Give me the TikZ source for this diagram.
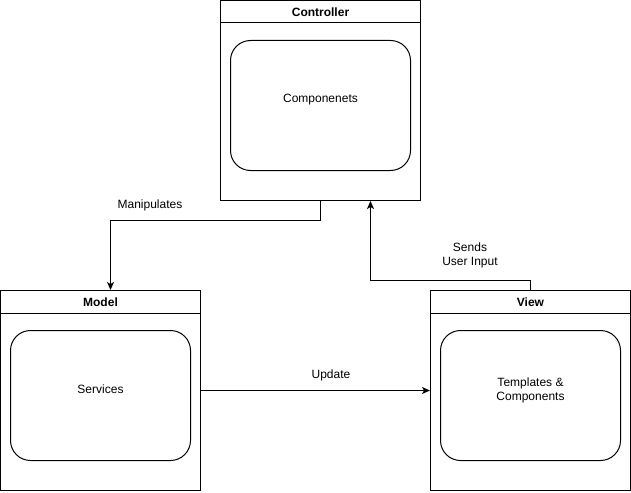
\documentclass[tikz,border=0pt]{standalone}
\usepackage{fontspec}
\setmainfont{Liberation Sans}
\usetikzlibrary{arrows.meta}
\begin{document}
\begin{tikzpicture}[x=1pt,y=-1pt,>={Stealth[length=8pt,width=7pt,inset=2pt]},line width=1pt,
    font=\fontsize{12}{14}\selectfont,
    container/.style={draw,minimum width=200pt,minimum height=200pt,inner sep=0pt},
    heading/.style={font=\fontsize{12}{14}\selectfont\bfseries},
    part/.style={draw,rounded corners=20pt,minimum width=180pt,minimum height=130pt}]
            \useasboundingbox (0,0) rectangle (631,492);
            % containers
            \node[container] (Ctrl) at (320.5,100.5) {};
            \node[container] (Mdl) at (100.5,390.5) {};
            \node[container] (Vw) at (530.5,390.5) {};
            \draw (220.5,23) -- (420.5,23);
            \draw (0.5,313) -- (200.5,313);
            \draw (430.5,313) -- (630.5,313);
            \node[heading] (CtrlT) at (320.5,12) {Controller};
            \node[heading] (MdlT) at (100.5,302) {Model};
            \node[heading] (VwT) at (530.5,302) {View};
            % inner parts
            \node[part] (Comp) at (320.5,105.5) {};
            \node[part] (Serv) at (100.5,395.5) {};
            \node[part] (Tmpl) at (530.5,395.5) {};
            \node (CompT) at (320.5,100) {Componenets};
            \node (ServT) at (100.5,389) {Services};
            \node[align=center] (TmplT) at (530.5,390) {Templates \&\\Components};
            % connectors
            \coordinate (M1) at (320.5,220.5);
            \coordinate (M2) at (110.5,220.5);
            \draw[->] (Ctrl.south) -- (M1) -- (M2) -- (M2 |- Mdl.north);
            \node (Manip) at (150,205) {Manipulates};
            \coordinate (S1) at (530.5,280.5);
            \coordinate (S2) at (370.5,280.5);
            \draw[->] (Vw.north) -- (S1) -- (S2) -- (S2 |- Ctrl.south);
            \node[align=center] (Sends) at (470,255) {Sends\\User Input};
            \draw[->] (Mdl.east) -- (Vw.west);
            \node (Upd) at (331,375) {Update};
        \end{tikzpicture}
\end{document}
